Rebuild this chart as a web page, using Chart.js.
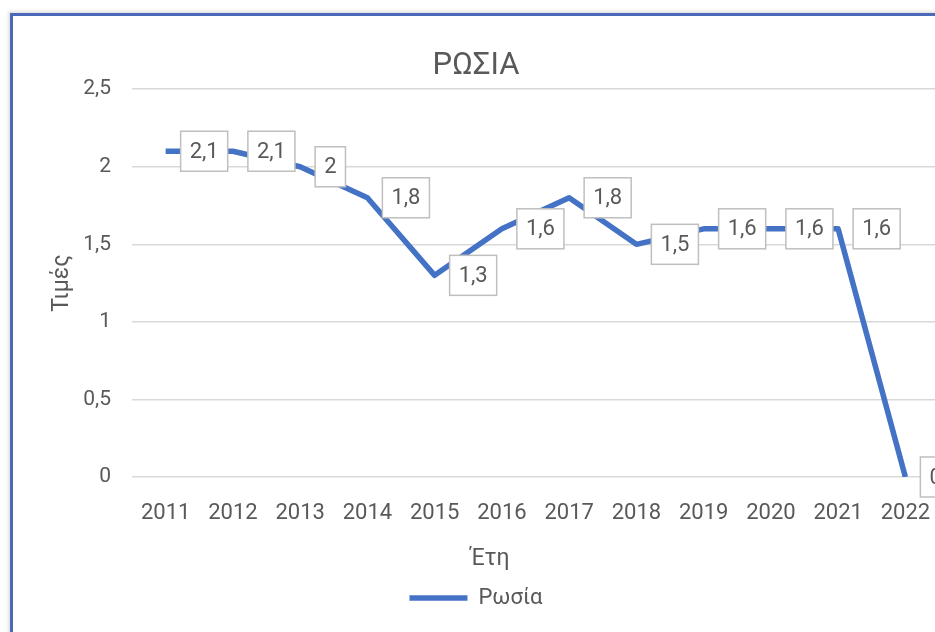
<!DOCTYPE html>
<html>
<head>
<meta charset="utf-8">
<script src="https://cdn.jsdelivr.net/npm/chart.js@4"></script>
<style>
    html, body { margin: 0; padding: 0; background: #fff; overflow: hidden; }
    #frame {
        position: absolute; left: 10px; top: 13px; width: 960px; height: 640px;
        border-left: 3px solid #4a69b8; border-top: 3px solid #4a69b8;
        box-shadow: -2px -2px 3px rgba(0, 0, 0, 0.12);
    }
    #chartRusia { position: absolute; left: 13px; top: 16px; }
</style>
</head>
<body>
<div id="frame"></div>
<canvas id="chartRusia" width="937" height="616"></canvas>
<script>
var etos = ['2011', '2012', '2013', '2014', '2015', '2016', '2017', '2018', '2019', '2020', '2021', '2022'];
var timesRosia = [2.1, 2.1, 2, 1.8, 1.3, 1.6, 1.8, 1.5, 1.6, 1.6, 1.6, 0];
var yTicks = [0, 0.5, 1, 1.5, 2, 2.5];

var grisTexto = '#595959';
var azul = '#4472C4';
var fuente = 'Roboto';

function coma(v) {
    return String(v).replace('.', ',');
}

// etiquetas de datos en cajas, a la derecha de cada punto
var etiquetasPlugin = {
    id: 'etiquetas',
    afterDatasetsDraw: function (chart) {
        var ctx = chart.ctx;
        var meta = chart.getDatasetMeta(0);
        ctx.save();
        ctx.font = '22px ' + fuente;
        ctx.textBaseline = 'middle';
        ctx.textAlign = 'left';
        meta.data.forEach(function (pt, i) {
            var txt = coma(timesRosia[i]);
            var w = ctx.measureText(txt).width + 18;
            var h = 40;
            var x = pt.x + 15;
            var y = pt.y - h / 2;
            ctx.fillStyle = '#ffffff';
            ctx.fillRect(x, y, w, h);
            ctx.strokeStyle = '#bfbfbf';
            ctx.lineWidth = 1.5;
            ctx.strokeRect(x, y, w, h);
            ctx.fillStyle = grisTexto;
            ctx.fillText(txt, x + 9, pt.y + 1);
        });
        ctx.restore();
    }
};

// título del eje x (desplazado como en el original)
var tituloXPlugin = {
    id: 'tituloX',
    afterDraw: function (chart) {
        var ctx = chart.ctx;
        ctx.save();
        ctx.font = '23px ' + fuente;
        ctx.fillStyle = grisTexto;
        ctx.textAlign = 'center';
        ctx.textBaseline = 'middle';
        ctx.fillText('Έτη', 477, 543);
        ctx.restore();
    }
};

var ctx = document.getElementById('chartRusia').getContext('2d');

var chartRusia = new Chart(ctx, {
    type: 'line',
    data: {
        labels: etos,
        datasets: [{
            label: 'Ρωσία',
            data: timesRosia,
            borderColor: azul,
            backgroundColor: azul,
            borderWidth: 5.5,
            borderJoinStyle: 'round',
            pointRadius: 0,
            pointStyle: 'line',
            tension: 0,
            fill: false
        }]
    },
    plugins: [etiquetasPlugin, tituloXPlugin],
    options: {
        responsive: false,
        animation: false,
        layout: {
            padding: { left: 0, right: 11, top: 0, bottom: 13 }
        },
        scales: {
            x: {
                offset: true,
                grid: { display: false },
                border: { display: false },
                ticks: {
                    color: grisTexto,
                    font: { family: fuente, size: 22 },
                    padding: 15,
                    maxRotation: 0,
                    autoSkip: false
                },
                afterFit: function (scale) { scale.height = 100; }
            },
            y: {
                min: 0,
                max: 2.5,
                afterBuildTicks: function (scale) {
                    scale.ticks = yTicks.map(function (v) { return { value: v }; });
                },
                grid: { color: '#d9d9d9', lineWidth: 1.5, drawTicks: false },
                border: { display: false },
                ticks: {
                    color: grisTexto,
                    font: { family: fuente, size: 21 },
                    padding: 21,
                    callback: function (v) { return coma(v); }
                },
                title: {
                    display: true,
                    text: 'Τιμές',
                    color: grisTexto,
                    font: { family: fuente, size: 23 },
                    padding: { top: 35, bottom: 0 }
                },
                afterFit: function (scale) { scale.width = 119; }
            }
        },
        plugins: {
            title: {
                display: true,
                text: 'ΡΩΣΙΑ',
                color: grisTexto,
                font: { family: fuente, size: 31, weight: 'normal' },
                padding: { top: 32, bottom: 4 }
            },
            legend: {
                display: true,
                position: 'bottom',
                labels: {
                    color: grisTexto,
                    font: { family: fuente, size: 22 },
                    usePointStyle: true,
                    pointStyleWidth: 58,
                    padding: 10
                }
            },
            tooltip: { enabled: false }
        }
    }
});
</script>
</body>
</html>
